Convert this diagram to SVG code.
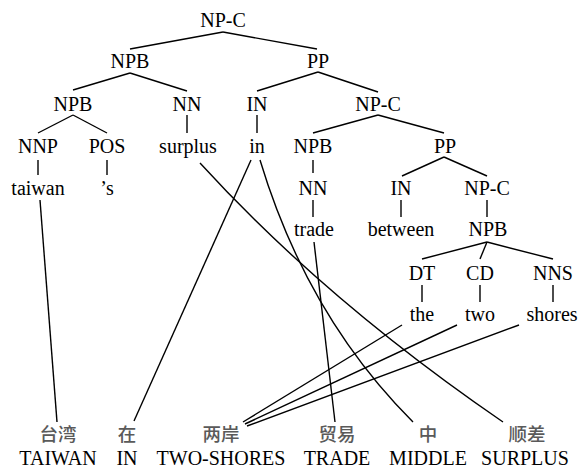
<svg xmlns="http://www.w3.org/2000/svg" width="582" height="468" viewBox="0 0 582 468">
<style>
text{font-family:'Liberation Serif','Times New Roman',serif;font-size:20px;fill:#000;text-anchor:middle}
text.zh{font-family:'Noto Sans CJK SC','Noto Sans CJK TC',sans-serif;font-size:18.5px;fill:#5a5a5a;font-weight:500}
line,path{stroke:#000;stroke-width:1.4;fill:none}
</style>
<rect width="582" height="468" fill="#fff"/>
<g id="connectors">
<line x1="223" y1="32" x2="130" y2="49"/>
<line x1="223" y1="32" x2="317" y2="49"/>
<line x1="130" y1="73" x2="73" y2="90"/>
<line x1="130" y1="73" x2="187" y2="91"/>
<line x1="318" y1="72" x2="257" y2="91"/>
<line x1="318" y1="72" x2="378" y2="92"/>
<line x1="73" y1="115" x2="38" y2="133"/>
<line x1="73" y1="115" x2="107" y2="133"/>
<line x1="187" y1="115" x2="187" y2="133"/>
<line x1="257" y1="115" x2="257" y2="133"/>
<line x1="378" y1="115" x2="313" y2="133"/>
<line x1="378" y1="115" x2="444" y2="133"/>
<line x1="38" y1="160" x2="38" y2="175"/>
<line x1="107" y1="160" x2="107" y2="175"/>
<line x1="313" y1="160" x2="313" y2="173"/>
<line x1="444" y1="157" x2="402" y2="176"/>
<line x1="444" y1="157" x2="487" y2="176"/>
<line x1="313" y1="200" x2="313" y2="217"/>
<line x1="401" y1="200" x2="401" y2="217"/>
<line x1="487" y1="200" x2="487" y2="217"/>
<line x1="487" y1="242" x2="422" y2="259"/>
<line x1="487" y1="242" x2="480" y2="259"/>
<line x1="487" y1="242" x2="553" y2="259"/>
<line x1="422" y1="285" x2="422" y2="302"/>
<line x1="480" y1="285" x2="480" y2="302"/>
<line x1="553" y1="285" x2="553" y2="302"/>
<line x1="40" y1="200" x2="57" y2="422"/>
<path d="M200,163 Q325,300 503,422"/>
<line x1="251" y1="160" x2="134" y2="421"/>
<path d="M260,160 Q307,316 413,422"/>
<line x1="314" y1="242" x2="335" y2="422"/>
<line x1="402" y1="325" x2="243" y2="422"/>
<line x1="457" y1="325" x2="245" y2="424"/>
<line x1="519" y1="325" x2="247" y2="426"/>
</g>
<g id="n-npc1"><text x="223" y="27">NP-C</text></g>
<g id="n-npb1"><text x="130" y="68">NPB</text></g>
<g id="n-pp1"><text x="318" y="68">PP</text></g>
<g id="n-npb2"><text x="73" y="111">NPB</text></g>
<g id="n-nn1"><text x="187" y="111">NN</text></g>
<g id="n-in1"><text x="257" y="111">IN</text></g>
<g id="n-npc2"><text x="378" y="111">NP-C</text></g>
<g id="n-nnp"><text x="38" y="153">NNP</text></g>
<g id="n-pos"><text x="107" y="153">POS</text></g>
<g id="n-surplus"><text x="188" y="153">surplus</text></g>
<g id="n-in"><text x="257" y="153">in</text></g>
<g id="n-npb3"><text x="313" y="153">NPB</text></g>
<g id="n-pp2"><text x="445" y="153">PP</text></g>
<g id="n-taiwan"><text x="38" y="195">taiwan</text></g>
<g id="n-s"><text x="107" y="195">’s</text></g>
<g id="n-nn2"><text x="313" y="195">NN</text></g>
<g id="n-in2"><text x="401" y="195">IN</text></g>
<g id="n-npc3"><text x="487" y="195">NP-C</text></g>
<g id="n-trade"><text x="314" y="236">trade</text></g>
<g id="n-between"><text x="401" y="236">between</text></g>
<g id="n-npb4"><text x="488" y="236">NPB</text></g>
<g id="n-dt"><text x="422" y="280">DT</text></g>
<g id="n-cd"><text x="480" y="280">CD</text></g>
<g id="n-nns"><text x="553" y="280">NNS</text></g>
<g id="n-the"><text x="422" y="321">the</text></g>
<g id="n-two"><text x="480" y="321">two</text></g>
<g id="n-shores"><text x="552" y="321">shores</text></g>
<g id="z-taiwan"><text class="zh" x="58" y="441">台湾</text><text x="58" y="465">TAIWAN</text></g>
<g id="z-in"><text class="zh" x="127" y="441">在</text><text x="127" y="465">IN</text></g>
<g id="z-twoshores"><text class="zh" x="221" y="441">两岸</text><text x="221" y="465">TWO-SHORES</text></g>
<g id="z-trade"><text class="zh" x="337" y="441">贸易</text><text x="337" y="465">TRADE</text></g>
<g id="z-middle"><text class="zh" x="428" y="441">中</text><text x="428" y="465">MIDDLE</text></g>
<g id="z-surplus"><text class="zh" x="527" y="441">顺差</text><text x="525" y="465">SURPLUS</text></g>
</svg>
